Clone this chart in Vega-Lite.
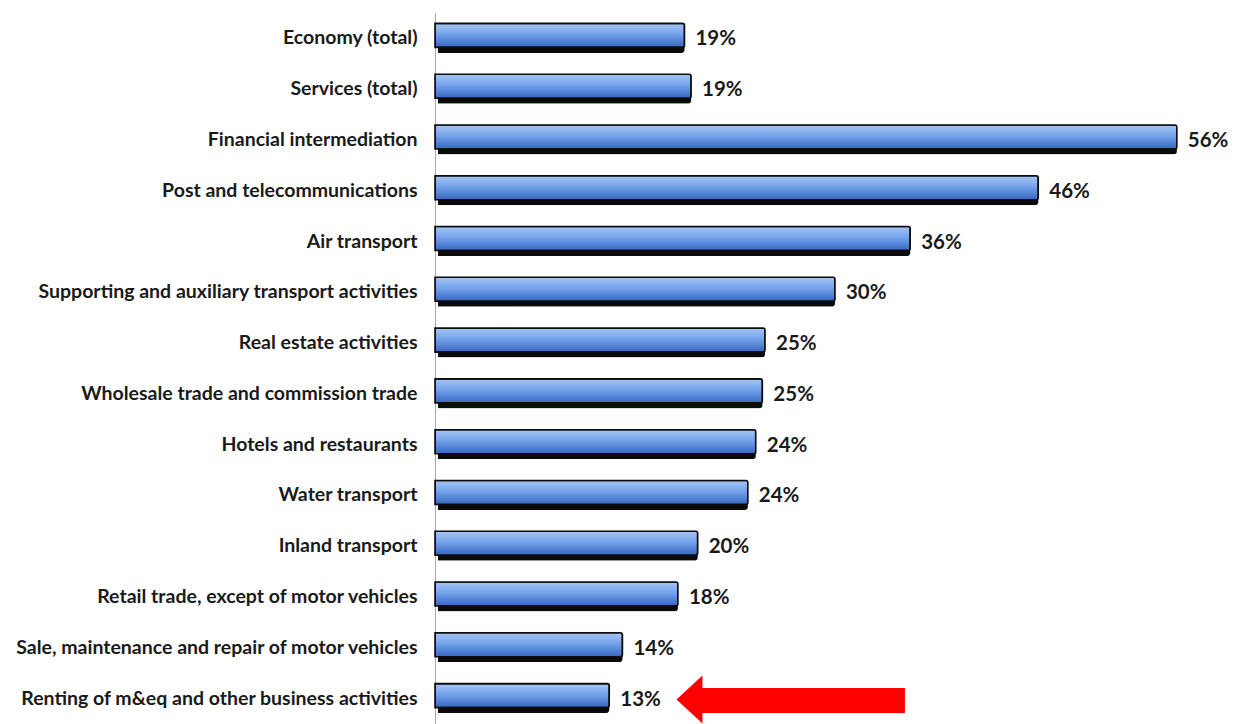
{
  "$schema": "https://vega.github.io/schema/vega-lite/v6.json",
  "autosize": "none",
  "width": 792,
  "height": 711,
  "padding": {"left": 435, "top": 13, "right": 6, "bottom": 0},
  "background": "white",
  "config": {"view": {"stroke": null}, "font": "Lato"},
  "datasets": {
    "bars": [
      {"category": "Economy (total)", "share": 0.189},
      {"category": "Services (total)", "share": 0.194},
      {"category": "Financial intermediation", "share": 0.562},
      {"category": "Post and telecommunications", "share": 0.457},
      {"category": "Air transport", "share": 0.360},
      {"category": "Supporting and auxiliary transport activities", "share": 0.303},
      {"category": "Real estate activities", "share": 0.250},
      {"category": "Wholesale trade and commission trade", "share": 0.248},
      {"category": "Hotels and restaurants", "share": 0.243},
      {"category": "Water transport", "share": 0.237},
      {"category": "Inland transport", "share": 0.199},
      {"category": "Retail trade, except of motor vehicles", "share": 0.184},
      {"category": "Sale, maintenance and repair of motor vehicles", "share": 0.142},
      {"category": "Renting of m&eq and other business activities", "share": 0.132}
    ],
    "arrow": [
      {"category": "Renting of m&eq and other business activities", "tail": 0.356, "shaftStart": 0.200, "head": 0.1928}
    ]
  },
  "encoding": {
    "y": {
      "field": "category",
      "type": "nominal",
      "sort": null,
      "scale": {"paddingInner": 0, "paddingOuter": 0},
      "axis": {
        "title": null,
        "ticks": false,
        "labelPadding": 18,
        "labelFont": "Lato",
        "labelFontSize": 19.5,
        "labelFontWeight": "bold",
        "labelColor": "#1a1a1a",
        "labelLimit": 500,
        "domainColor": "#a8a8a8",
        "domainWidth": 1
      }
    }
  },
  "layer": [
    {
      "data": {"name": "bars"},
      "mark": {"type": "bar", "size": 24, "color": "#0a0a0a", "xOffset": 3, "yOffset": 2.5, "cornerRadius": 3},
      "encoding": {
        "x": {"field": "share", "type": "quantitative", "scale": {"domain": [0, 0.6], "nice": false}, "axis": null}
      }
    },
    {
      "data": {"name": "bars"},
      "mark": {
        "type": "bar",
        "size": 24,
        "yOffset": -3,
        "cornerRadiusEnd": 2,
        "stroke": "#0d0d0d",
        "strokeWidth": 1.6,
        "color": {
          "gradient": "linear",
          "x1": 0, "y1": 0, "x2": 0, "y2": 1,
          "stops": [
            {"offset": 0, "color": "#a6c6f6"},
            {"offset": 0.45, "color": "#74a3ea"},
            {"offset": 1, "color": "#3566c0"}
          ]
        }
      },
      "encoding": {
        "x": {"field": "share", "type": "quantitative"}
      }
    },
    {
      "data": {"name": "bars"},
      "mark": {"type": "text", "align": "left", "baseline": "middle", "dx": 11, "dy": 1, "font": "Lato", "fontSize": 20.5, "fontWeight": "bold", "color": "#1a1a1a"},
      "encoding": {
        "x": {"field": "share", "type": "quantitative"},
        "text": {"field": "share", "type": "quantitative", "format": ".0%"}
      }
    },
    {
      "data": {"name": "arrow"},
      "mark": {"type": "bar", "size": 25, "color": "#ff0000", "yOffset": 2},
      "encoding": {
        "x": {"field": "shaftStart", "type": "quantitative"},
        "x2": {"field": "tail"}
      }
    },
    {
      "data": {"name": "arrow"},
      "mark": {"type": "point", "shape": "M-0.54,0L0.54,-1L0.54,1Z", "size": 2304, "filled": true, "color": "#ff0000", "opacity": 1, "strokeWidth": 0, "yOffset": 1},
      "encoding": {
        "x": {"field": "head", "type": "quantitative"}
      }
    }
  ]
}
